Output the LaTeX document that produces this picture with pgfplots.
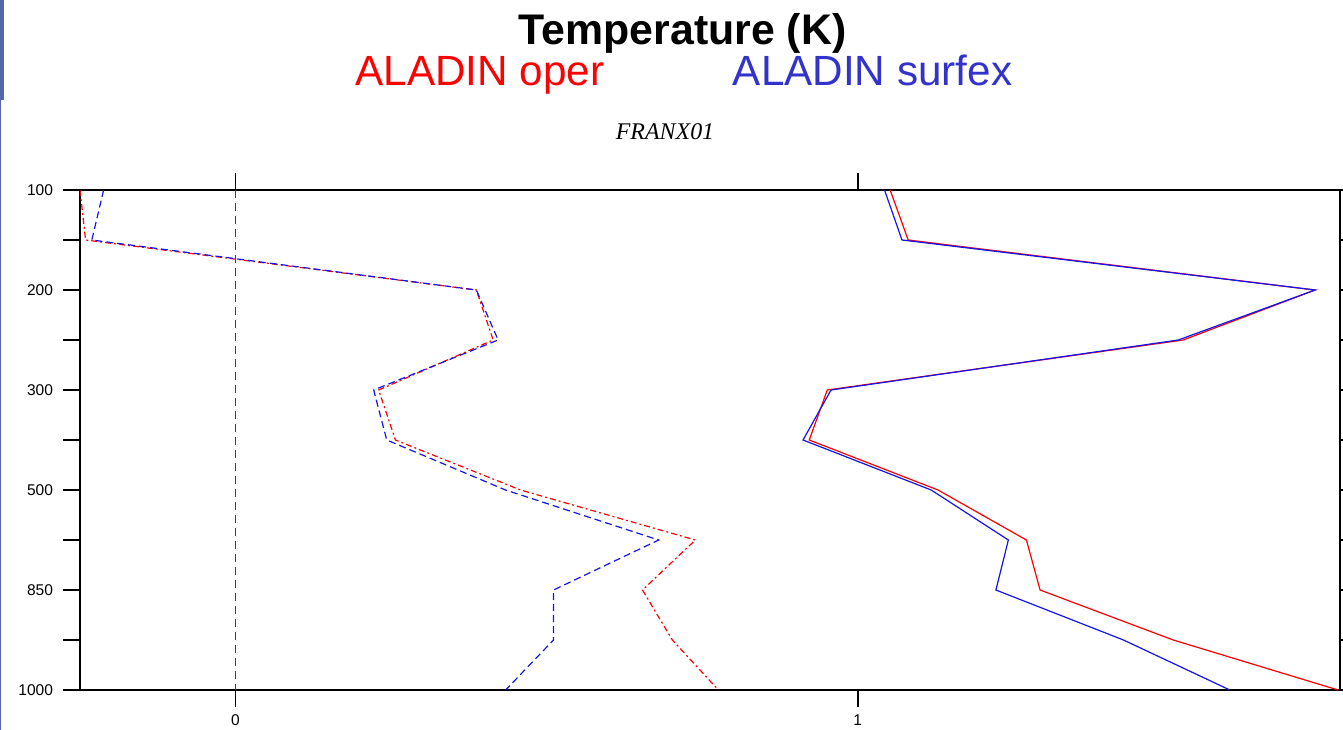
\documentclass[border=0pt]{standalone}
\usepackage{pgfplots}
\pgfplotsset{compat=1.18}
\usepackage{fontspec}
\setmainfont{Liberation Sans}
\newfontfamily\serifface{Liberation Serif}
\definecolor{surfexblue}{RGB}{51,51,204}
\definecolor{slidebar}{RGB}{84,104,168}
\definecolor{linered}{RGB}{255,0,0}
\definecolor{lineblue}{RGB}{20,20,235}

\pgfplotstableread{
lev operbias surfexbias operrmse surfexrmse
0  -0.250 -0.212 1.052 1.043
1  -0.241 -0.231 1.081 1.071
2   0.387  0.387 1.735 1.735
3   0.414  0.422 1.523 1.515
4   0.230  0.222 0.951 0.957
5   0.257  0.243 0.922 0.912
6   0.458  0.434 1.129 1.118
7   0.739  0.680 1.271 1.242
8   0.654  0.511 1.293 1.222
9   0.702  0.511 1.507 1.427
10  0.776  0.434 1.772 1.598
}\datatable

\begin{document}
\begin{tikzpicture}
\begin{axis}[
  name=main,
  scale only axis, width=630bp, height=250bp,
  xmin=-0.25, xmax=1.775, ymin=0, ymax=10, y dir=reverse,
  xtick={0,1}, xticklabels={0,1},
  ytick={0,...,10}, yticklabels={100,,200,,300,,500,,850,,1000},
  tick align=outside, major tick length=8.5bp,
  axis line style={line width=1.3bp},
  every tick/.style={black, line width=0.8bp},
  tick label style={font=\fontsize{7.8}{9}\selectfont},
  yticklabel style={xshift=-1.5bp},
  xticklabel style={yshift=-0.5bp},
  /pgf/number format/assume math mode=true,
]
\addplot[color=black!75, line width=0.6bp, dash pattern=on 4bp off 2.5bp] coordinates {(0,0) (0,10)};
\addplot[color=linered, line width=0.6bp, dash pattern=on 3bp off 1.5bp on 1bp off 1.5bp] table[x=operbias, y=lev] {\datatable};
\addplot[color=lineblue, line width=0.6bp, dash pattern=on 3.5bp off 2bp] table[x=surfexbias, y=lev] {\datatable};
\addplot[color=linered, line width=0.6bp] table[x=operrmse, y=lev] {\datatable};
\addplot[color=lineblue, line width=0.6bp] table[x=surfexrmse, y=lev] {\datatable};
\end{axis}
% titles
\node[anchor=base, font=\fontsize{21.5}{24}\selectfont\bfseries] at ([xshift=-13.75bp, yshift=72.5bp]main.north) {Temperature (K)};
\node[anchor=base, font=\fontsize{21.2}{24}\selectfont, text=linered] at ([xshift=200bp, yshift=52bp]main.north west) {ALADIN oper};
\node[anchor=base, font=\fontsize{21.2}{24}\selectfont, text=surfexblue] at ([xshift=396.25bp, yshift=52bp]main.north west) {ALADIN surfex};
\node[anchor=base, font=\fontsize{12}{14}\selectfont\serifface\itshape] at ([xshift=292.5bp, yshift=25bp]main.north west) {FRANX01};
% slide edge decoration
\fill[slidebar] ([xshift=-40bp, yshift=95bp]main.north west) rectangle ([xshift=-38bp, yshift=45bp]main.north west);
\fill[slidebar] ([xshift=-40bp, yshift=45bp]main.north west) rectangle ([xshift=-39.4bp, yshift=-270bp]main.north west);
\pgfresetboundingbox
\path ([xshift=-40bp, yshift=-20bp]main.south west) rectangle ([xshift=1.5bp, yshift=95bp]main.north east);
\end{tikzpicture}
\end{document}
